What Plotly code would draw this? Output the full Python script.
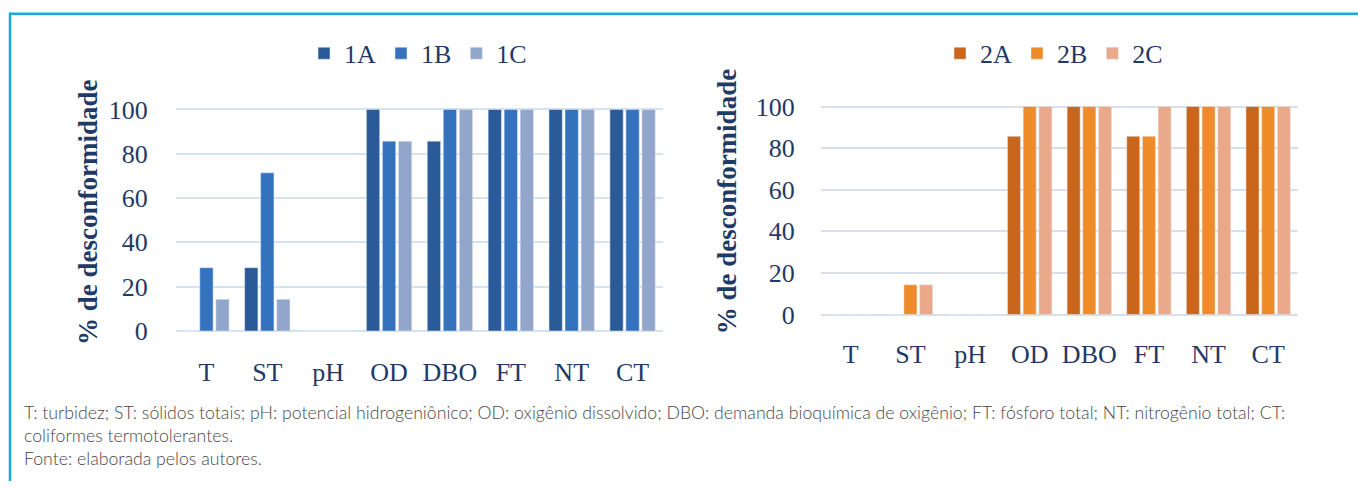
import plotly.graph_objects as go

categories = ["T", "ST", "pH", "OD", "DBO", "FT", "NT", "CT"]

s1A = [0, 28.6, 0, 100, 85.7, 100, 100, 100]
s1B = [28.6, 71.4, 0, 85.7, 100, 100, 100, 100]
s1C = [14.3, 14.3, 0, 85.7, 100, 100, 100, 100]

s2A = [0, 0, 0, 85.7, 100, 85.7, 100, 100]
s2B = [0, 14.3, 0, 100, 100, 85.7, 100, 100]
s2C = [0, 14.3, 0, 100, 100, 100, 100, 100]

yticks = [0, 20, 40, 60, 80, 100]
ytitle = "% de desconformidade"
caption = [
    "T: turbidez; ST: sólidos totais; pH: potencial hidrogeniônico; OD: oxigênio dissolvido; DBO: demanda bioquímica de oxigênio; FT: fósforo total; NT: nitrogênio total; CT:",
    "coliformes termotolerantes.",
    "Fonte: elaborada pelos autores.",
]

W, H = 1358, 494
NAVY = "#1F3A66"
SERIF = "Liberation Serif, Times New Roman, serif"

fig = go.Figure()

left = [("1A", s1A, "#2A5B98"), ("1B", s1B, "#3572BE"), ("1C", s1C, "#92A5CA")]
right = [("2A", s2A, "#C9661B"), ("2B", s2B, "#EF8B29"), ("2C", s2C, "#E9A98A")]

for name, vals, col in left:
    fig.add_trace(go.Bar(x=categories, y=vals, name=name, marker=dict(color=col),
                         xaxis="x", yaxis="y", legend="legend"))
for name, vals, col in right:
    fig.add_trace(go.Bar(x=categories, y=vals, name=name, marker=dict(color=col),
                         xaxis="x2", yaxis="y2", legend="legend2"))

tickfont = dict(family=SERIF, size=26, color=NAVY)

common_x = dict(showgrid=False, showline=False, zeroline=False, tickfont=tickfont,
                ticks="outside", tickcolor="rgba(0,0,0,0)", fixedrange=True)
common_y = dict(range=[-1, 105], tickvals=yticks, showgrid=True, gridwidth=2,
                zeroline=False, showline=False, tickfont=tickfont,
                ticks="outside", tickcolor="rgba(0,0,0,0)", fixedrange=True)

fig.update_layout(
    width=W, height=H,
    margin=dict(l=0, r=0, t=0, b=0),
    paper_bgcolor="white", plot_bgcolor="white",
    barmode="group", bargap=0.21, bargroupgap=0.17,
    xaxis=dict(domain=[176 / W, 663 / W], anchor="y", ticklen=16, **common_x),
    yaxis=dict(domain=[1 - 341.3 / H, 1 - 98.55 / H], anchor="x", gridcolor="#D5E3F1",
               ticklen=22, **common_y),
    xaxis2=dict(domain=[821 / W, 1298 / W], anchor="y2", ticklen=14, **common_x),
    yaxis2=dict(domain=[1 - 324.15 / H, 1 - 96.25 / H], anchor="x2", gridcolor="#D8DFE9",
                ticklen=20, **common_y),
    legend=dict(orientation="h", x=418 / W, xanchor="center", y=1 - 52 / H, yanchor="middle",
                font=dict(family=SERIF, size=26, color=NAVY), itemwidth=30,
                bgcolor="rgba(0,0,0,0)", tracegroupgap=0),
    legend2=dict(orientation="h", x=1054 / W, xanchor="center", y=1 - 52 / H, yanchor="middle",
                 font=dict(family=SERIF, size=26, color=NAVY), itemwidth=30,
                 bgcolor="rgba(0,0,0,0)", tracegroupgap=0),
    showlegend=True,
)

annotations = [
    dict(text="<b>" + ytitle + "</b>", textangle=-90, x=88 / W, y=1 - 216 / H,
         xref="paper", yref="paper", xanchor="center", yanchor="middle", showarrow=False,
         font=dict(family=SERIF, size=27, color=NAVY)),
    dict(text="<b>" + ytitle + "</b>", textangle=-90, x=727 / W, y=1 - 205 / H,
         xref="paper", yref="paper", xanchor="center", yanchor="middle", showarrow=False,
         font=dict(family=SERIF, size=27, color=NAVY)),
]
for line, ypix in zip(caption, [423, 447, 471]):
    annotations.append(dict(text=line, x=22 / W, y=1 - ypix / H, xref="paper", yref="paper",
                            xanchor="left", yanchor="middle", showarrow=False,
                            font=dict(family="Lato, Open Sans, sans-serif", size=17.7,
                                      color="#474747", weight=300)))
fig.update_layout(annotations=annotations)

fig.update_layout(shapes=[
    dict(type="line", xref="paper", yref="paper", x0=9 / W, x1=1, y0=1 - 11 / H, y1=1 - 11 / H,
         line=dict(color="#19A9E1", width=2.5)),
    dict(type="line", xref="paper", yref="paper", x0=10 / W, x1=10 / W, y0=1 - 10 / H, y1=0,
         line=dict(color="#19A9E1", width=2.5)),
])

fig.write_html("out.html")
